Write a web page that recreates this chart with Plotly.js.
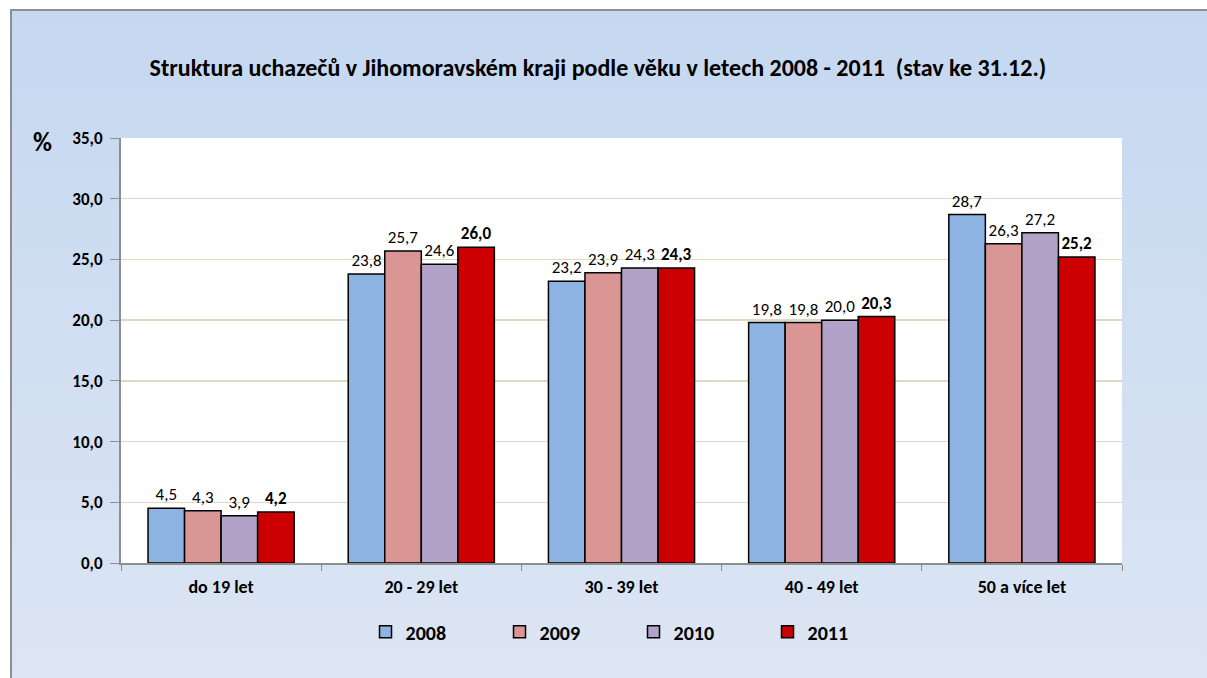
<!DOCTYPE html>
<html>
<head>
<meta charset="utf-8">
<script src="https://cdn.plot.ly/plotly-3.0.1.min.js"></script>
<style>
  html, body { margin: 0; padding: 0; background: #ffffff; overflow: hidden; }
  #page { position: relative; width: 1207px; height: 678px; overflow: hidden; background: #ffffff; }
  #frame { position: absolute; left: 10px; top: 9px; width: 1300px; height: 760px;
           border: 2px solid #8e8e8e; box-sizing: border-box;
           background: linear-gradient(to bottom, #c5d8f0 0%, #dfe7f4 100%); }
  #chart { position: absolute; left: 12px; top: 12px; width: 1195px; height: 666px; }
</style>
</head>
<body>
<div id="page">
  <div id="frame"></div>
  <div id="chart"></div>
</div>
<script>
const categories = ["do 19 let", "20 - 29 let", "30 - 39 let", "40 - 49 let", "50 a více let"];
const years = ["2008", "2009", "2010", "2011"];
const values2008 = [4.5, 23.8, 23.2, 19.8, 28.7];
const values2009 = [4.3, 25.7, 23.9, 19.8, 26.3];
const values2010 = [3.9, 24.6, 24.3, 20.0, 27.2];
const values2011 = [4.2, 26.0, 24.3, 20.3, 25.2];
const seriesValues = [values2008, values2009, values2010, values2011];
const colors = ["#8db3e2", "#d99694", "#b3a2c7", "#cc0000"];
const boldLabel = [false, false, false, true];

const FONT = "Carlito, Lato, 'Open Sans', sans-serif";

const traces = seriesValues.map((vals, i) => ({
  type: "bar",
  name: years[i],
  x: categories,
  y: vals,
  marker: { color: colors[i], line: { color: "#000000", width: 1.5 } },
  text: vals.map(v => v.toFixed(1).replace(".", ",")),
  texttemplate: boldLabel[i] ? "<b>%{text}</b>" : "%{text}",
  textposition: "outside",
  cliponaxis: false,
  textfont: { family: FONT, size: 17, color: "#000000" },
  hoverinfo: "x+y"
}));

const layout = {
  width: 1195,
  height: 666,
  margin: { l: 109, r: 85, t: 126, b: 115 },
  paper_bgcolor: "rgba(0,0,0,0)",
  plot_bgcolor: "#ffffff",
  font: { family: FONT, color: "#000000" },
  barmode: "group",
  bargap: 0.27,
  bargroupgap: 0,
  title: {
    text: "<b>Struktura uchazečů v Jihomoravském kraji podle věku v letech 2008 - 2011  (stav ke 31.12.)</b>",
    font: { family: FONT, size: 24, color: "#000000" },
    xref: "paper", x: 0.4765, xanchor: "center",
    yref: "container", y: 0.917, yanchor: "middle"
  },
  xaxis: {
    type: "category",
    tickson: "boundaries",
    ticks: "outside",
    ticklen: 6,
    tickcolor: "#8e8e8e",
    showline: true,
    linecolor: "#8e8e8e",
    linewidth: 2,
    ticklabelstandoff: 6,
    tickfont: { family: FONT, size: 18, color: "#000000", weight: "bold" },
    showgrid: false
  },
  yaxis: {
    range: [0, 35],
    dtick: 5,
    tickformat: ".1f",
    ticks: "outside",
    ticklen: 9,
    tickcolor: "#8e8e8e",
    showline: true,
    linecolor: "#8e8e8e",
    linewidth: 2,
    gridcolor: "#ddd9c3",
    gridwidth: 1.5,
    zeroline: false,
    ticklabelstandoff: 4,
    tickfont: { family: FONT, size: 17, color: "#000000", weight: "bold" }
  },
  separators: ", ",
  showlegend: true,
  legend: {
    orientation: "h",
    xref: "paper", x: 0.512, xanchor: "center",
    y: -0.162, yanchor: "middle",
    entrywidth: 89,
    entrywidthmode: "pixels",
    font: { family: FONT, size: 20, color: "#000000", weight: "bold" },
    bgcolor: "rgba(0,0,0,0)"
  },
  annotations: [{
    text: "<b>%</b>",
    xref: "paper", yref: "paper",
    x: -0.078, y: 1, xanchor: "center", yanchor: "middle",
    yshift: -4,
    showarrow: false,
    font: { family: FONT, size: 26, color: "#000000" }
  }]
};

Plotly.newPlot("chart", traces, layout, { displayModeBar: false, staticPlot: true });
</script>
</body>
</html>
